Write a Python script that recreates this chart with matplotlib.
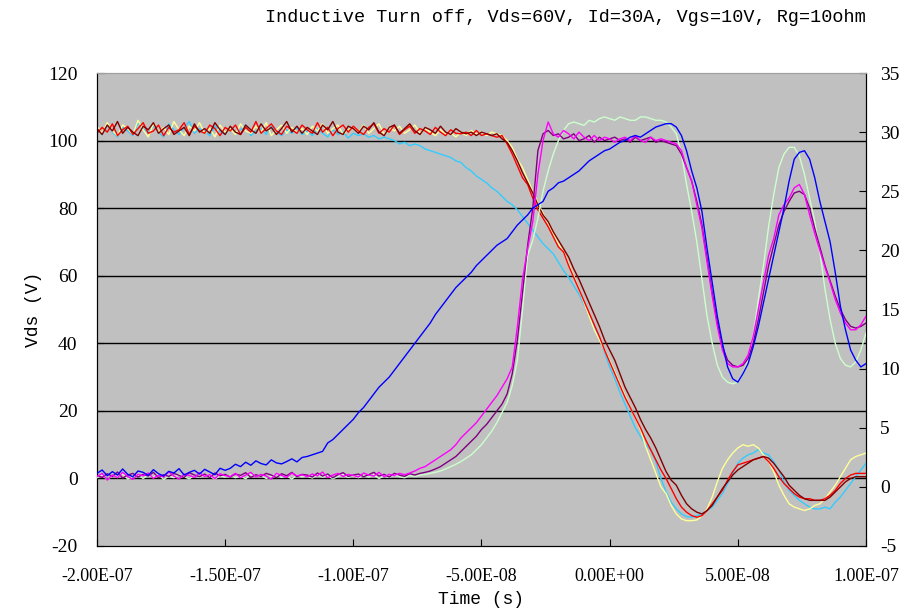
import numpy as np
import matplotlib
matplotlib.use("Agg")
import matplotlib.pyplot as plt

# time axis in ns (-200 .. 100, step 2)
time_ns = np.arange(-200, 101, 2)

# ---- Vds traces (left axis, V) ----
vds_blue = [
    1.5, 2.5, 0.8, 2, 1, 2.8, 1.2, 0.5, 2.2, 1.8, 0.9, 2.6, 1.4, 0.7, 2.1, 1.6, 2.9, 1, 1.8, 2.4, 1.3, 2.7, 1.9, 1.1, 3, 2.4,
    3, 4.2, 3.5, 4.8, 3.9, 5.2, 4.4, 4, 5.5, 4.6, 4.3, 5, 5.8, 4.9, 6.2,
    6.5, 7, 7.5, 8, 10.5, 11.5, 13, 14.5, 16, 17.5,
    19.5, 21, 23, 25, 27, 28.5, 30, 32, 34, 36, 38, 40, 42, 44, 46, 48.5, 50.5, 52.5, 54.5, 56.5,
    58, 59.5, 61, 63, 64.5, 66, 67.5, 69, 70, 71, 73, 75, 76.5, 78, 80,
    81, 82, 85, 86, 87.5, 88, 89, 90, 91, 92.5, 94, 95, 96, 97, 97.5,
    98.5, 99.5, 100, 101, 101.5, 101, 102, 103, 104, 104.5, 105, 105, 104, 101.5, 97,
    91, 86, 79, 68, 58, 48, 40, 33, 29.5, 28.5, 31, 34, 39, 45, 52,
    59, 66, 73, 80, 88, 94.5, 96.5, 97, 94.5, 89, 82, 76, 70, 61, 51, 44, 38, 35, 33, 34,
]
vds_magenta = [
    0.5, 1.5, -0.5, 1, 0.2, 1.8, 0.6, -0.3, 1.2, 0.8, 1.6, 0, 1, 0.4, 2, 0.7, -0.2, 1.3, 0.9, 0.3, 1.7, 0.6, 1.1, -0.1, 1.4, 0.8,
    0.6, 1.5, 0.2, 1, 1.8, 0.4, 1.2, 0.7, -0.2, 1.5, 0.9, 0.3, 1.6, 0.8, 1.1,
    0.5, 1.3, 0.8, 1.9, 0.2, 1, 1.5, 0.6, 1.2, 0.9,
    0.4, 1.6, 1, 0.7, 1.8, 0.5, 1.2, 0.9, 1.5, 1.1, 1.6, 2.2, 3, 3.5, 4.5, 5.5, 6.5, 7.5, 8.5, 10,
    12, 13.5, 15, 16.5, 18.5, 20.5, 22.5, 24.5, 27, 29.5, 33, 45, 59, 68, 76,
    90, 100, 105.5, 102, 101, 103, 102, 100.5, 102.5, 101, 100, 101.5, 100, 101, 100.5,
    99.5, 100.5, 101, 100, 101.5, 100, 99.5, 101, 100, 100.5, 100, 99.5, 99, 97, 92,
    88, 81, 74, 64, 54, 45, 38, 34, 33, 33, 34, 36.5, 42, 50, 58,
    66, 71, 78, 81, 83, 86, 87, 84, 78, 72.5, 67.5, 62.5, 58, 53, 49, 46, 44, 44, 45.5, 48,
]
vds_purple = [
    0.9, 0.3, 1.4, 0.6, 1.9, 0.1, 1, 1.5, 0.4, 1.2, 0.7, 1.8, 0.2, 1.1, 0.6, 1.5, 0.9, 0.3, 1.7, 1, 0.5, 1.3, 0.2, 1.6, 0.8, 1.2,
    0.4, 1.3, 0.9, 1.7, 0.3, 1.1, 0.6, 1.5, 1, 0.2, 1.4, 0.8, 1.8, 0.5, 1.2,
    1, 0.4, 1.6, 0.7, 1.3, 0.2, 1.1, 1.7, 0.6, 1,
    1.3, 0.5, 1.1, 1.8, 0.7, 1.2, 0.4, 1.5, 1, 0.6, 1.4, 1, 1.5, 1.8, 2.2, 2.8, 3.5, 4.5, 5.5, 6.5,
    8, 9.5, 11, 12.5, 14.5, 16, 18, 20, 22, 25, 31, 41, 55, 69, 80,
    97, 102, 103, 101.5, 102, 100.5, 101, 102, 100, 100.5, 101.5, 99.5, 101, 100, 100.5,
    101, 100, 100.5, 99.5, 101, 100, 100.5, 101, 99.5, 100, 99.5, 99, 98.5, 96, 92,
    88, 82, 75, 65, 55, 46, 39, 35, 33.5, 33, 33.5, 35.5, 40, 47, 55,
    63, 69, 75, 79, 82, 84.5, 85, 84, 80, 74, 68.5, 63, 58.5, 54, 50, 47, 45, 44.5, 45, 46,
]
vds_green = [
    0.2, 1.1, -0.4, 0.8, 0.3, 1.4, -0.2, 0.6, 1, 0, 0.9, 0.4, 1.3, -0.3, 0.7, 0.2, 1.2, 0.5, -0.1, 0.9, 0.3, 1.1, 0.6, -0.2, 0.8, 0.4,
    1, 0.2, 0.7, -0.1, 1.2, 0.5, 0.9, 0, 0.6, 1.3, 0.3, 0.8, -0.2, 1, 0.5,
    0.7, 0.1, 1.1, 0.4, 0.8, -0.1, 0.6, 1.2, 0.3, 0.9,
    0.2, 0.8, 0.4, 1, 0, 0.7, 0.3, 1.1, 0.5, 0.2, 0.9, 0.6, 1, 1.2, 1.5, 1.8, 2.2, 2.8, 3.5, 4.2,
    5, 6, 7, 8.5, 10, 12, 14, 16.5, 19.5, 22.5, 27.5, 35, 50, 66, 70.5,
    77, 85, 91, 96, 100, 103, 105, 105.5, 105, 104.5, 106, 105.5, 106.5, 107, 106.5,
    106, 107, 106.5, 106, 106, 107, 107, 106.5, 106, 106, 105.5, 104, 102, 96, 87,
    79, 70, 59, 48, 40, 33.5, 30, 28.5, 28, 28.5, 31, 35, 42, 53, 63,
    74.5, 84, 92, 96, 98, 98, 95.5, 90, 83, 76, 67, 56, 47, 40, 35.5, 33.5, 33, 34.5, 38, 43,
]

# ---- Id traces (right axis, A) ----
id_cyan = [
    30.2, 29.8, 30.6, 30.0, 29.6, 30.4, 30.1, 29.7, 30.8, 30.3, 29.9, 30.5, 30.0, 29.6, 30.7, 30.2, 29.8, 30.4, 30.9, 29.9, 30.3, 30.1, 29.7, 30.5, 30.0, 29.8,
    30.4, 29.9, 30.2, 30.6, 29.7, 30.1, 30.3, 29.8, 30.5, 30.0, 29.7, 30.2, 29.9, 30.4, 29.8,
    30.1, 29.7, 30.3, 29.9, 29.6, 30.2, 29.8, 30.0, 29.5, 29.9,
    29.71, 29.86, 29.57, 29.71, 29.43, 29.57, 29.43, 29.29, 29.0, 29.14, 28.86, 29.0, 28.86, 28.57, 28.43, 28.29, 28.14, 28.0, 27.86, 27.57,
    27.43, 27.0, 26.71, 26.29, 26.0, 25.71, 25.29, 25.0, 24.57, 24.14, 23.86, 23.43, 22.86, 22.29, 21.71,
    21.14, 20.57, 20.14, 19.71, 19.0, 18.29, 17.71, 17.0, 16.29, 15.43, 14.57, 13.57, 12.57, 11.43, 10.14,
    9.14, 8.0, 7.0, 6.0, 5.0, 4.29, 3.57, 3.14, 2.14, 0.71, -0.43, -1.29, -1.86, -2.29, -2.51,
    -2.57, -2.43, -2.29, -2.0, -1.71, -1.14, -0.57, 0.29, 1.14, 2.0, 2.43, 2.71, 2.86, 3.14, 2.86,
    2.71, 2.14, 1.43, 0.43, -0.29, -0.71, -1.14, -1.43, -1.71, -1.86, -1.86, -1.71, -1.86, -1.29, -0.86, -0.29, 0.29, 0.86, 1.43, 2.0,
]
id_yellow = [
    30.5, 29.9, 30.8, 30.1, 29.7, 30.6, 30.3, 29.8, 31.0, 30.2, 29.6, 30.7, 30.0, 30.4, 29.8, 30.9, 30.2, 29.7, 30.5, 30.1, 30.8, 29.9, 30.3, 29.6, 30.6, 30.0,
    30.3, 29.8, 30.7, 30.1, 29.9, 30.5, 30.0, 30.8, 29.7, 30.2, 30.6, 29.9, 30.4, 30.0, 30.3,
    29.8, 30.5, 30.1, 30.7, 29.9, 30.3, 30.6, 29.8, 30.2, 30.4,
    30.0, 30.6, 29.9, 30.3, 30.7, 29.8, 30.4, 30.1, 30.5, 29.9, 30.2, 30.6, 29.9, 30.3, 30.0, 29.7, 30.2, 29.8, 29.9, 29.6,
    30.0, 29.71, 30.14, 29.86, 30.0, 29.71, 30.0, 29.86, 29.71, 29.29, 28.71, 27.71, 27.0, 26.0, 25.0,
    24.0, 23.14, 22.29, 21.43, 20.57, 19.86, 18.86, 17.86, 16.71, 15.57, 14.43, 13.29, 12.43, 11.57, 10.71,
    9.71, 8.71, 7.71, 6.71, 5.86, 4.86, 3.43, 2.29, 1.14, 0.0, -0.57, -1.57, -2.29, -2.71, -2.86,
    -2.86, -2.80, -2.43, -1.86, -0.86, 0.43, 1.57, 2.29, 2.86, 3.29, 3.57, 3.43, 3.57, 3.29, 2.71,
    2.14, 1.29, 0.14, -0.71, -1.43, -1.71, -1.86, -2.0, -1.86, -1.57, -1.43, -1.0, -0.43, 0.14, 0.86, 1.57, 2.29, 2.57, 2.71, 2.86,
]
id_red = [
    29.9, 30.4, 30.0, 30.7, 29.7, 30.2, 30.5, 29.8, 30.3, 30.8, 29.9, 30.1, 30.6, 29.7, 30.4, 30.0, 30.2, 30.8, 29.8, 30.5, 30.1, 29.9, 30.6, 30.3, 29.7, 30.4,
    30.1, 30.6, 29.8, 30.4, 30.0, 30.9, 29.9, 30.3, 30.7, 30.1, 29.8, 30.5, 30.2, 29.9, 30.6,
    30.2, 29.9, 30.8, 30.0, 30.4, 29.7, 30.3, 30.6, 30.0, 30.5,
    30.1, 29.8, 30.4, 30.7, 29.9, 30.3, 30.0, 30.6, 29.8, 30.2, 30.5, 29.9, 30.3, 30.1, 29.8, 30.4, 30.0, 29.7, 30.2, 29.9,
    29.86, 30.0, 29.71, 30.14, 29.71, 29.86, 29.71, 29.57, 29.71, 29.0, 28.14, 27.14, 26.14, 25.57, 24.43,
    23.43, 22.71, 22.0, 21.14, 20.29, 19.86, 18.71, 17.71, 16.71, 15.71, 14.71, 13.71, 12.71, 11.57, 10.57,
    9.57, 8.57, 7.57, 6.71, 5.86, 5.0, 4.0, 3.14, 2.29, 1.43, 0.71, -0.14, -1.0, -1.71, -2.14,
    -2.43, -2.57, -2.43, -2.0, -1.43, -0.86, -0.29, 0.57, 1.29, 1.86, 2.0, 2.14, 2.29, 2.43, 2.57,
    2.14, 1.57, 0.86, 0.29, -0.14, -0.57, -0.86, -1.0, -1.0, -1.14, -1.14, -1.0, -0.71, -0.29, 0.29, 0.71, 1.0, 1.14, 1.14, 1.14,
]
id_darkred = [
    30.3, 29.8, 30.6, 30.1, 30.9, 29.9, 30.4, 30.0, 29.7, 30.5, 30.2, 30.8, 29.9, 30.3, 30.6, 29.8, 30.1, 30.4, 29.7, 30.7, 30.0, 30.3, 29.9, 30.8, 30.2, 29.8,
    30.5, 30.0, 29.8, 30.6, 30.2, 29.9, 30.7, 30.1, 30.4, 29.8, 30.3, 30.9, 30.0, 30.5, 29.9,
    30.4, 30.1, 29.8, 30.6, 30.2, 30.9, 30.0, 29.8, 30.5, 30.3,
    29.9, 30.5, 30.2, 30.8, 30.0, 29.7, 30.4, 30.6, 29.9, 30.3, 30.7, 30.1, 29.8, 30.4, 30.2, 29.9, 30.5, 30.0, 29.8, 30.3,
    30.0, 29.86, 30.0, 29.71, 30.0, 29.86, 29.71, 29.86, 29.43, 29.14, 28.43, 27.57, 26.57, 25.71, 24.86,
    23.86, 23.0, 22.43, 21.57, 20.86, 20.14, 19.43, 18.43, 17.57, 16.57, 15.57, 14.57, 13.57, 12.43, 11.57,
    10.71, 9.57, 8.43, 7.57, 6.71, 5.71, 4.86, 4.14, 3.29, 2.29, 1.29, 0.57, 0.14, -0.71, -1.43,
    -1.86, -2.14, -2.29, -2.0, -1.57, -0.86, -0.14, 0.43, 1.0, 1.43, 1.71, 2.0, 2.29, 2.43, 2.57,
    2.43, 2.0, 1.43, 0.86, 0.14, -0.29, -0.71, -1.0, -1.14, -1.14, -1.14, -1.14, -0.86, -0.43, 0.0, 0.43, 0.71, 0.86, 0.86, 0.86,
]

x_ticks = [-2.0e-7, -1.5e-7, -1.0e-7, -5.0e-8, 0.0, 5.0e-8, 1.0e-7]
x_tick_labels = ["-2.00E-07", "-1.50E-07", "-1.00E-07", "-5.00E-08", "0.00E+00", "5.00E-08", "1.00E-07"]
left_ticks = [-20, 0, 20, 40, 60, 80, 100, 120]
right_ticks = [-5, 0, 5, 10, 15, 20, 25, 30, 35]

title = "Inductive Turn off, Vds=60V, Id=30A, Vgs=10V, Rg=10ohm"

t = time_ns * 1e-9

fig = plt.figure(figsize=(9.12, 6.15), dpi=100)
ax = fig.add_axes([97 / 912, 1 - 546 / 615, (866 - 97) / 912, (546 - 73) / 615])
ax.set_facecolor("#c0c0c0")
ax2 = ax.twinx()
ax.set_zorder(0)
ax2.set_zorder(1)
ax2.patch.set_visible(False)

for yv in left_ticks[1:-1]:
    ax.axhline(yv, color="#000000", lw=1.0, zorder=1)

lw = 1.0
ax2.plot(t, id_cyan, color="#33ccff", lw=lw, zorder=2)
ax2.plot(t, id_yellow, color="#ffff99", lw=lw, zorder=2)
ax2.plot(t, id_red, color="#ff0000", lw=lw, zorder=2)
ax2.plot(t, id_darkred, color="#800000", lw=lw, zorder=2)

ax3 = ax.twinx()
ax3.set_zorder(2)
ax3.patch.set_visible(False)
ax3.set_ylim(-20, 120)
ax3.axis("off")
ax3.plot(t, vds_green, color="#ccffcc", lw=lw)
ax3.plot(t, vds_purple, color="#800080", lw=lw)
ax3.plot(t, vds_magenta, color="#ff00ff", lw=lw)
ax3.plot(t, vds_blue, color="#0000ff", lw=lw)

ax.set_xlim(-2.0e-7, 1.0e-7)
ax.set_ylim(-20, 120)
ax2.set_ylim(-5, 35)

ax.set_xticks(x_ticks)
ax.set_xticklabels(x_tick_labels, fontfamily="Liberation Serif", fontsize=13)
ax.set_yticks(left_ticks)
ax.set_yticklabels([str(v) for v in left_ticks], fontfamily="Liberation Serif", fontsize=14)
ax2.set_yticks(right_ticks)
ax2.set_yticklabels([str(v) for v in right_ticks], fontfamily="Liberation Serif", fontsize=14)

ax.tick_params(axis="y", direction="in", length=5, color="black", pad=14)
ax.tick_params(axis="x", direction="in", length=5, color="black", pad=16)
ax2.tick_params(axis="y", direction="in", length=5, color="black", pad=10)

for a in (ax, ax2, ax3):
    a.spines["top"].set_color("#a0a0a0")
    a.spines["left"].set_color("black")
    a.spines["right"].set_color("black")
    a.spines["bottom"].set_color("black")

ax.set_xlabel("Time (s)", fontfamily="Liberation Mono", fontsize=13, labelpad=4)
ax.set_ylabel("Vds (V)", fontfamily="Liberation Mono", fontsize=13, labelpad=4)

fig.text(866 / 912, 1 - 18 / 615, title, ha="right", va="center",
         fontfamily="Liberation Mono", fontsize=13.3)

fig.savefig("out.png", dpi=100)
